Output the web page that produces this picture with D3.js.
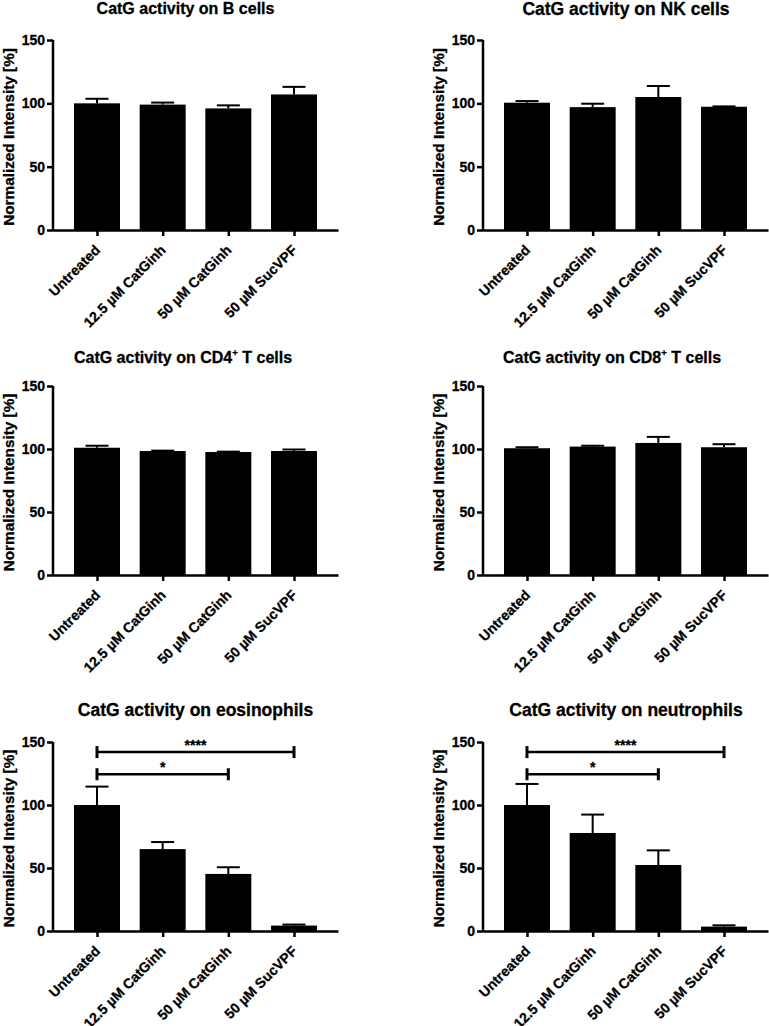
<!DOCTYPE html>
<html>
<head>
<meta charset="utf-8">
<script src="https://cdn.jsdelivr.net/npm/d3@7"></script>
<style>
  html, body { margin: 0; padding: 0; background: #fff; }
  svg { display: block; }
  text { font-family: "Liberation Sans", Arial, sans-serif; font-weight: bold; fill: #000; stroke: #000; stroke-width: 0.3px; }
</style>
</head>
<body>
<svg id="chart" width="769" height="1026"></svg>
<script>
// ---------- data ----------
const categories = ["Untreated", "12.5 µM CatGinh", "50 µM CatGinh", "50 µM SucVPF"];
const yTicks = [0, 50, 100, 150];

const bCellsMean = [100, 99, 96, 107];
const bCellsErr  = [3.6, 1.6, 2.4, 6];
const nkCellsMean = [100.5, 97, 105, 97.3];
const nkCellsErr  = [1.3, 2.7, 8.7, 0.3];
const cd4Mean = [101, 98.4, 97.6, 98.4];
const cd4Err  = [1.6, 0.3, 0.3, 1.2];
const cd8Mean = [100.6, 101.9, 104.8, 101.4];
const cd8Err  = [0.8, 0.7, 4.8, 2.4];
const eosMean = [100, 65, 45.3, 4.3];
const eosErr  = [14.6, 5.6, 5.3, 0.8];
const neuMean = [100, 77.8, 52.4, 3.5];
const neuErr  = [16.7, 14.6, 11.6, 1.0];

// significance brackets: [fromIndex, toIndex, yValue, label]
const eosSig = [[0, 3, 142, "****"], [0, 2, 124.4, "*"]];
const neuSig = [[0, 3, 142, "****"], [0, 2, 124.4, "*"]];

const titles = [
  ["CatG activity on B cells"],
  ["CatG activity on NK cells"],
  ["CatG activity on CD4", "+", " T cells"],
  ["CatG activity on CD8", "+", " T cells"],
  ["CatG activity on eosinophils"],
  ["CatG activity on neutrophils"]
];

// ---------- layout ----------
const panels = [
  { mean: bCellsMean, err: bCellsErr, sig: [], title: titles[0], ax: 53,  yTop: 40,  yBot: 230, tx: 185.5, ty: 14, tfs: 16 },
  { mean: nkCellsMean, err: nkCellsErr, sig: [], title: titles[1], ax: 483, yTop: 40,  yBot: 230, tx: 626, ty: 15, tfs: 17.5 },
  { mean: cd4Mean, err: cd4Err, sig: [], title: titles[2], ax: 53,  yTop: 386, yBot: 575, tx: 183, ty: 362.5, tfs: 16 },
  { mean: cd8Mean, err: cd8Err, sig: [], title: titles[3], ax: 483, yTop: 386, yBot: 575, tx: 612, ty: 362.5, tfs: 16 },
  { mean: eosMean, err: eosErr, sig: eosSig, title: titles[4], ax: 53,  yTop: 742, yBot: 931, tx: 195.5, ty: 716, tfs: 17.5 },
  { mean: neuMean, err: neuErr, sig: neuSig, title: titles[5], ax: 483, yTop: 742, yBot: 931, tx: 626, ty: 716, tfs: 17.5 }
];
const plotW = 285;
const barW = 46;
const capW = 23;

const svg = d3.select("#chart");

panels.forEach(p => {
  const g = svg.append("g");
  const x = d3.scalePoint().domain(categories).range([p.ax, p.ax + plotW]).padding(0.67);
  const y = d3.scaleLinear().domain([0, 150]).range([p.yBot, p.yTop]);

  // bars
  g.selectAll("rect.bar").data(categories).enter().append("rect")
    .attr("x", d => x(d) - barW / 2)
    .attr("width", barW)
    .attr("y", (d, i) => y(p.mean[i]))
    .attr("height", (d, i) => y(0) - y(p.mean[i]))
    .attr("fill", "#000");

  // error bars (upper only)
  g.selectAll("line.err").data(categories).enter().append("line")
    .attr("x1", d => x(d)).attr("x2", d => x(d))
    .attr("y1", (d, i) => y(p.mean[i]))
    .attr("y2", (d, i) => y(p.mean[i] + p.err[i]))
    .attr("stroke", "#000").attr("stroke-width", 2);
  g.selectAll("line.cap").data(categories).enter().append("line")
    .attr("x1", d => x(d) - capW / 2).attr("x2", d => x(d) + capW / 2)
    .attr("y1", (d, i) => y(p.mean[i] + p.err[i]))
    .attr("y2", (d, i) => y(p.mean[i] + p.err[i]))
    .attr("stroke", "#000").attr("stroke-width", 2);

  // y axis
  const yAxis = g.append("g").attr("transform", `translate(${p.ax},0)`)
    .call(d3.axisLeft(y).tickValues(yTicks).tickSize(6).tickSizeOuter(0).tickPadding(2));
  yAxis.select(".domain").attr("stroke-width", 2.5).attr("d", `M0,${p.yBot + 1.25}V${p.yTop}`);
  yAxis.selectAll(".tick line").attr("stroke-width", 2.5);
  yAxis.selectAll(".tick text").attr("font-size", 14).attr("font-family", "Liberation Sans, Arial, sans-serif").attr("font-weight", "bold").attr("fill", "#000");

  // x axis
  const xAxis = g.append("g").attr("transform", `translate(0,${p.yBot})`)
    .call(d3.axisBottom(x).tickSize(6).tickSizeOuter(0).tickFormat(""));
  xAxis.select(".domain").attr("stroke-width", 2.5);
  xAxis.selectAll(".tick line").attr("stroke-width", 2.5);

  // x labels (rotated)
  g.selectAll("text.xl").data(categories).enter().append("text")
    .attr("transform", d => `translate(${x(d) + 4},${p.yBot + 21}) rotate(-45)`)
    .attr("text-anchor", "end")
    .attr("font-size", 14)
    .text(d => d);

  // y label
  g.append("text")
    .attr("transform", `translate(${p.ax - 39},${(p.yTop + p.yBot) / 2 + 2}) rotate(-90)`)
    .attr("text-anchor", "middle")
    .attr("font-size", 15.3)
    .text("Normalized Intensity [%]");

  // title
  const t = g.append("text")
    .attr("x", p.tx).attr("y", p.ty)
    .attr("text-anchor", "middle")
    .attr("font-size", p.tfs);
  t.append("tspan").text(p.title[0]);
  if (p.title.length > 1) {
    t.append("tspan").attr("font-size", p.tfs * 0.6).attr("dy", -7).text(p.title[1]);
    t.append("tspan").attr("dy", 7).text(p.title[2]);
  }

  // significance brackets
  p.sig.forEach(s => {
    const x1 = x(categories[s[0]]), x2 = x(categories[s[1]]), yy = y(s[2]);
    g.append("line").attr("x1", x1).attr("x2", x2).attr("y1", yy).attr("y2", yy)
      .attr("stroke", "#000").attr("stroke-width", 2.5);
    [x1, x2].forEach(xx => g.append("line").attr("x1", xx).attr("x2", xx)
      .attr("y1", yy - 6).attr("y2", yy + 6).attr("stroke", "#000").attr("stroke-width", 3));
    g.append("text").attr("x", (x1 + x2) / 2).attr("y", yy - 2)
      .attr("text-anchor", "middle").attr("font-size", 14).text(s[3]);
  });
});
</script>
</body>
</html>
